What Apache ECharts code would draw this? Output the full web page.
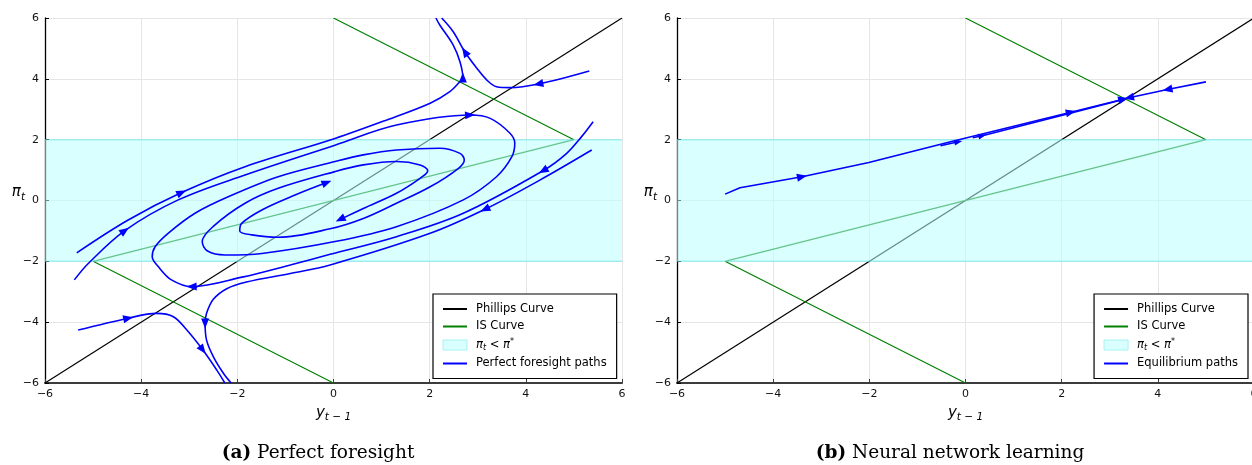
<!DOCTYPE html>
<html>
<head>
<meta charset="utf-8">
<script src="https://cdn.jsdelivr.net/npm/echarts@6/dist/echarts.min.js"></script>
<style>
  html, body { margin: 0; padding: 0; background: #fff; }
  #chart { width: 1252px; height: 465px; }
</style>
</head>
<body>
<div id="chart"></div>
<script>
// ---- axis range ----
const axisMin = -6;
const axisMax = 6;
const tickStep = 2;

// ---- model curves ----
const phillipsCurve = [[-6, -6], [6, 6]];
const isCurve = [[0, 6], [5, 2], [-5, -2], [0, -6]];
const bandX = [-6, 6];
const bandPi = [-2, 2];          // region where inflation is below target

// ---- (a) perfect foresight paths, [y_{t-1}, pi_t] ----
const pfUpperRight = [[5.32, 4.26], [4.26, 3.83], [3.67, 3.71], [3.39, 3.74], [3.19, 3.96],
  [2.98, 4.35], [2.73, 4.89], [2.49, 5.55], [2.25, 6.0]];
const pfUpperRightArrows = [1, 6];

const pfOuter = [[-5.34, -1.72], [-4.27, -0.64], [-3.16, 0.26], [-1.84, 1.11], [0.03, 2.04],
  [1.11, 2.65], [2.01, 3.2], [2.42, 3.58], [2.63, 3.91], [2.69, 4.04], [2.63, 4.56],
  [2.49, 5.11], [2.21, 5.77], [2.13, 6.0]];
const pfOuterArrows = [2, 9];

const pfSpiralA = [[-5.39, -2.61], [-5.10, -2.07], [-4.34, -0.99], [-3.23, 0.02], [-1.84, 0.84],
  [0.03, 1.82], [1.31, 2.48], [2.84, 2.81], [3.26, 2.70], [3.67, 2.21], [3.77, 1.88],
  [3.71, 1.44], [3.39, 0.78], [2.70, 0.02], [1.31, -0.86], [0.03, -1.35], [-1.49, -1.74],
  [-2.26, -1.79], [-2.62, -1.66], [-2.73, -1.35], [-2.50, -0.85], [-1.84, -0.09],
  [-1.15, 0.40], [0.03, 0.95], [0.62, 1.17], [1.31, 1.28], [1.80, 1.17], [1.96, 0.98],
  [1.80, 0.73], [1.31, 0.24], [0.62, -0.26], [0.14, -0.62]];
const pfSpiralAArrows = [2, 7, 31];

const pfSpiralB = [[5.40, 2.59], [5.16, 2.10], [4.85, 1.55], [4.36, 0.98], [2.70, -0.42],
  [1.31, -1.19], [-0.07, -1.77], [-0.90, -2.12], [-1.90, -2.52], [-2.95, -2.83],
  [-3.37, -2.61], [-3.64, -2.18], [-3.77, -1.85], [-3.71, -1.52], [-3.44, -1.08],
  [-2.88, -0.42], [-2.19, 0.12], [-1.15, 0.78], [0.03, 1.28], [0.62, 1.50], [1.31, 1.66],
  [2.21, 1.72], [2.63, 1.55], [2.72, 1.33], [2.60, 1.06], [2.01, 0.45], [1.31, -0.09],
  [0.62, -0.59], [-0.07, -0.93], [-1.15, -1.21], [-1.70, -1.13], [-1.95, -1.00],
  [-1.91, -0.75], [-1.49, -0.31], [-0.80, 0.18], [-0.14, 0.59]];
const pfSpiralBArrows = [3, 9, 35];

const pfLower = [[5.37, 1.66], [4.29, 0.67], [3.15, -0.29], [2.01, -1.08], [-0.07, -2.12],
  [-0.90, -2.40], [-1.81, -2.68], [-2.22, -2.90], [-2.50, -3.25], [-2.64, -3.71],
  [-2.67, -4.04], [-2.64, -4.59], [-2.50, -5.13], [-2.29, -5.68], [-2.13, -6.0]];
const pfLowerArrows = [2, 10];

const pfLowerLeft = [[-5.31, -4.26], [-4.27, -3.87], [-3.68, -3.71], [-3.33, -3.82],
  [-3.05, -4.26], [-2.72, -4.91], [-2.43, -5.57], [-2.26, -6.0]];
const pfLowerLeftArrows = [1, 5];

// ---- (b) neural network learning paths ----
const nnFromLeft = [[-5.0, 0.21], [-4.69, 0.42], [-3.40, 0.78], [-2.01, 1.25], [-0.31, 1.93],
  [2.19, 2.90], [3.28, 3.33]];
const nnFromLeftArrows = [2, 5, 6];
const nnMidA = [[-0.52, 1.80], [-0.15, 1.93]];
const nnMidAArrows = [1];
const nnMidB = [[0.15, 2.06], [0.35, 2.13], [2.20, 2.88], [3.28, 3.32]];
const nnMidBArrows = [1];
const nnFromRight = [[5.0, 3.90], [4.20, 3.65], [3.40, 3.38]];
const nnFromRightArrows = [1, 2];

// ---- text ----
const bandName = 'πt < π*';
const nameA = 'Perfect foresight paths';
const nameB = 'Equilibrium paths';

const FONT = 'DejaVu Sans';
const SERIF = 'DejaVu Serif';
const BLUE = '#0000ff';
const GREEN = '#008000';

const chart = echarts.init(document.getElementById('chart'), null, { renderer: 'canvas' });

const minus = v => String(v).replace('-', '\u2212');

const nameRich = {
  i: { fontFamily: FONT, fontStyle: 'italic', fontSize: 15, color: '#000', lineHeight: 20 },
  s: { fontFamily: FONT, fontStyle: 'italic', fontSize: 10.5, color: '#000', verticalAlign: 'bottom', lineHeight: 12 }
};

function xAxisFor(gi) {
  return {
    type: 'value', gridIndex: gi, min: axisMin, max: axisMax, interval: tickStep,
    name: '{i|y}{s|t \u2212 1}', nameLocation: 'middle', nameGap: 20,
    nameTextStyle: { rich: nameRich },
    axisLine: { onZero: false, lineStyle: { color: '#3c3c3c', width: 2 } },
    axisTick: { inside: true, length: 4, lineStyle: { color: '#3c3c3c', width: 1 } },
    axisLabel: { formatter: minus, fontFamily: FONT, fontSize: 11, color: '#111', margin: 6 },
    splitLine: { show: true, lineStyle: { color: '#e6e6e6', width: 1 } }
  };
}
function yAxisFor(gi) {
  return {
    type: 'value', gridIndex: gi, min: axisMin, max: axisMax, interval: tickStep,
    name: '{i|π}{s|t}', nameLocation: 'middle', nameGap: 20, nameRotate: 0,
    nameMoveOverlap: false,
    nameTextStyle: { rich: nameRich, padding: [0, 0, 16, 0] },
    axisLine: { onZero: false, lineStyle: { color: '#000', width: 1.3 } },
    axisTick: { inside: true, length: 4, lineStyle: { color: '#000', width: 1 } },
    axisLabel: { formatter: minus, fontFamily: FONT, fontSize: 11, color: '#111', margin: 6 },
    splitLine: { show: true, lineStyle: { color: '#e6e6e6', width: 1 } }
  };
}

function lineSeries(name, data, gi, color, width) {
  return {
    type: 'line', name, xAxisIndex: gi, yAxisIndex: gi, data, z: 1,
    symbol: 'none', showSymbol: false, silent: true, animation: false,
    lineStyle: { color, width }, itemStyle: { color }, emphasis: { disabled: true }
  };
}

// translucent band laid over the model curves
function bandSeries(gi) {
  return {
    type: 'custom', name: bandName, xAxisIndex: gi, yAxisIndex: gi, z: 2,
    data: [[bandX[0], bandX[1], bandPi[0], bandPi[1]]],
    encode: { x: [0, 1], y: [2, 3] },
    silent: true, animation: false,
    itemStyle: { color: '#d9ffff' },
    renderItem: (params, api) => {
      const tl = api.coord([api.value(0), api.value(3)]);
      const br = api.coord([api.value(1), api.value(2)]);
      return {
        type: 'group',
        children: [
          { type: 'rect', shape: { x: tl[0], y: tl[1], width: br[0] - tl[0], height: br[1] - tl[1] },
            style: { fill: 'rgba(185,255,255,0.54)' } },
          { type: 'line', shape: { x1: tl[0], y1: tl[1], x2: br[0], y2: tl[1] },
            style: { stroke: 'rgba(100,235,235,0.5)', lineWidth: 1.5 } },
          { type: 'line', shape: { x1: tl[0], y1: br[1], x2: br[0], y2: br[1] },
            style: { stroke: 'rgba(100,235,235,0.5)', lineWidth: 1.5 } }
        ]
      };
    }
  };
}

const pathMeta = [];
const metaIndex = [];
function pathSeries(name, pts, arrows, gi, smooth, size) {
  pathMeta.push({ pts, arrows, gi, size });
  return {
    type: 'line', name, xAxisIndex: gi, yAxisIndex: gi, z: 3,
    data: pts.map((p, i) => arrows.includes(i)
      ? { value: p, symbol: 'triangle', symbolSize: size, symbolRotate: 0 }
      : { value: p, symbol: 'none' }),
    symbol: 'none', showSymbol: true, showAllSymbol: true, smooth,
    silent: true, animation: false, emphasis: { disabled: true },
    lineStyle: { color: BLUE, width: 1.6 }, itemStyle: { color: BLUE }
  };
}

const seriesDefs = [
  ['line', 'Phillips Curve', phillipsCurve, 0, '#000', 1.2],
  ['line', 'IS Curve', isCurve, 0, GREEN, 1.2],
  ['band', 0],
  ['path', nameA, pfUpperRight, pfUpperRightArrows, 0, 0.35, [8, 10]],
  ['path', nameA, pfOuter, pfOuterArrows, 0, 0.35, [8, 10]],
  ['path', nameA, pfSpiralA, pfSpiralAArrows, 0, 0.35, [8, 10]],
  ['path', nameA, pfSpiralB, pfSpiralBArrows, 0, 0.35, [8, 10]],
  ['path', nameA, pfLower, pfLowerArrows, 0, 0.35, [8, 10]],
  ['path', nameA, pfLowerLeft, pfLowerLeftArrows, 0, 0.35, [8, 10]],
  ['line', 'Phillips Curve', phillipsCurve, 1, '#000', 1.2],
  ['line', 'IS Curve', isCurve, 1, GREEN, 1.2],
  ['band', 1],
  ['path', nameB, nnFromLeft, nnFromLeftArrows, 1, false, [8, 10]],
  ['path', nameB, nnMidA, nnMidAArrows, 1, false, [6, 8]],
  ['path', nameB, nnMidB, nnMidBArrows, 1, false, [6, 8]],
  ['path', nameB, nnFromRight, nnFromRightArrows, 1, false, [8, 10]]
];
const series = seriesDefs.map(d => {
  if (d[0] === 'line') { metaIndex.push(-1); return lineSeries(d[1], d[2], d[3], d[4], d[5]); }
  if (d[0] === 'band') { metaIndex.push(-1); return bandSeries(d[1]); }
  metaIndex.push(pathMeta.length);
  return pathSeries(d[1], d[2], d[3], d[4], d[5], d[6]);
});

const legendRich = {
  i: { fontFamily: FONT, fontStyle: 'italic', fontSize: 11.5, color: '#000', lineHeight: 14 },
  sb: { fontFamily: FONT, fontStyle: 'italic', fontSize: 8, color: '#000', verticalAlign: 'bottom', lineHeight: 9 },
  sp: { fontFamily: FONT, fontSize: 8, color: '#000', verticalAlign: 'top', lineHeight: 9 },
  n: { fontFamily: FONT, fontSize: 11.5, color: '#000', lineHeight: 14 }
};
function legendFor(pathName, pos) {
  return Object.assign({
    orient: 'vertical', itemWidth: 24, itemHeight: 10, itemGap: 5.5,
    padding: [9, 10, 9, 9], borderColor: '#000', borderWidth: 1.2, backgroundColor: '#fff',
    selectedMode: false,
    itemStyle: { opacity: 0 },
    textStyle: { fontFamily: FONT, fontSize: 11.5, color: '#000', padding: [0, 0, 0, 4], rich: legendRich },
    formatter: name => (name === bandName
      ? '{i|π}{sb|t}{n| < }{i|π}{sp|*}'
      : '{n|' + name + '}'),
    data: [
      'Phillips Curve',
      'IS Curve',
      { name: bandName, icon: 'rect',
        itemStyle: { color: '#d9ffff', borderColor: '#a6f2f2', borderWidth: 1, opacity: 1 } },
      pathName
    ]
  }, pos);
}

const captionRich = {
  b: { fontFamily: SERIF, fontWeight: 'bold', fontSize: 18.5, color: '#000' },
  r: { fontFamily: SERIF, fontSize: 18.5, color: '#000' }
};

const option = {
  backgroundColor: '#fff',
  animation: false,
  grid: [
    { left: 45, top: 18, width: 577, height: 365, outerBoundsMode: 'none', containLabel: false },
    { left: 677, top: 18, width: 577, height: 365, outerBoundsMode: 'none', containLabel: false }
  ],
  xAxis: [xAxisFor(0), xAxisFor(1)],
  yAxis: [yAxisFor(0), yAxisFor(1)],
  legend: [
    legendFor(nameA, { left: 433, top: 294 }),
    legendFor(nameB, { right: 4, top: 294 })
  ],
  graphic: [
    { type: 'text', style: { x: 318, y: 453, align: 'center', verticalAlign: 'middle',
        text: '{b|(a)}{r| Perfect foresight}', rich: captionRich } },
    { type: 'text', style: { x: 950, y: 453, align: 'center', verticalAlign: 'middle',
        text: '{b|(b)}{r| Neural network learning}', rich: captionRich } }
  ],
  series
};

chart.setOption(option);

// orient each arrowhead along its path, measured in screen space
const rotUpdates = series.map((s, si) => {
  const mi = metaIndex[si];
  if (mi < 0) return {};
  const { pts, arrows, gi, size } = pathMeta[mi];
  const data = pts.map((p, i) => {
    if (!arrows.includes(i)) return { value: p, symbol: 'none' };
    const a = pts[i - 1] || p;
    const b = pts[i + 1] || p;
    const pa = chart.convertToPixel({ gridIndex: gi }, a);
    const pb = chart.convertToPixel({ gridIndex: gi }, b);
    const ang = Math.atan2(-(pb[1] - pa[1]), pb[0] - pa[0]) * 180 / Math.PI;
    return { value: p, symbol: 'triangle', symbolSize: size, symbolRotate: ang - 90 };
  });
  return { data };
});
chart.setOption({ series: rotUpdates });
</script>
</body>
</html>
